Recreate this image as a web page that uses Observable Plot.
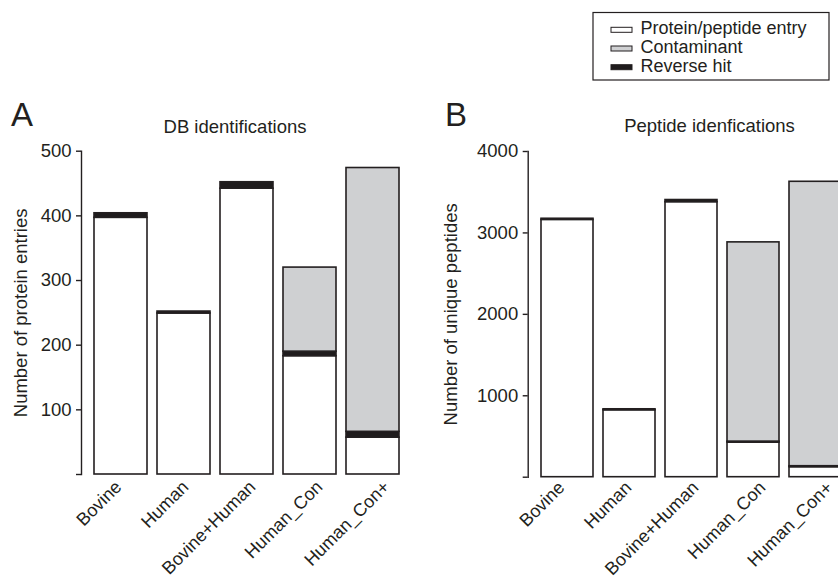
<!DOCTYPE html>
<html><head><meta charset="utf-8">
<script src="https://cdn.jsdelivr.net/npm/d3@7"></script>
<script src="https://cdn.jsdelivr.net/npm/@observablehq/plot@0.6"></script>
<style>
html,body{margin:0;padding:0;background:#fff;overflow:hidden}
#wrap{position:relative;width:838px;height:577px;overflow:hidden;font-family:"Liberation Sans",Arial,sans-serif;color:#231f20}
.panel{position:absolute;top:0;height:577px}
.panel svg{max-width:none !important;position:absolute;left:0;top:0}
#overlay{position:absolute;left:0;top:0;pointer-events:none}
</style></head>
<body>
<div id="wrap">
  <div id="pa" class="panel" style="left:0px;width:420px"></div>
  <div id="pb" class="panel" style="left:420px;width:433px"></div>
  <svg id="overlay" width="838" height="577"></svg>
</div>
<script>
// ---- data ----
const categories = ["Bovine", "Human", "Bovine+Human", "Human_Con", "Human_Con+"];
const series = ["Protein/peptide entry", "Reverse hit", "Contaminant"];
const legendOrder = ["Protein/peptide entry", "Contaminant", "Reverse hit"];

// Panel A: DB identifications (number of protein entries)
const dbEntry       = [397, 249, 442, 183, 57];
const dbReverse     = [7, 3, 10, 7, 9];
const dbContaminant = [0, 0, 0, 130, 408];
const dbTicks = [0, 100, 200, 300, 400, 500];

// Panel B: Peptide identifications (number of unique peptides)
const pepEntry       = [3160, 822, 3378, 425, 123];
const pepReverse     = [14, 12, 26, 12, 12];
const pepContaminant = [0, 0, 0, 2447, 3493];
const pepTicks = [0, 1000, 2000, 3000, 4000];

const colors = {"Protein/peptide entry": "#ffffff", "Reverse hit": "#1f1c1d", "Contaminant": "#cfd0d2"};
const ink = "#231f20";
const font = "Liberation Sans, Arial, sans-serif";

function tidy(entry, reverse, contaminant) {
  const cols = [entry, reverse, contaminant];
  const out = [];
  categories.forEach((c, i) => series.forEach((s, j) => {
    if (cols[j][i] > 0) out.push({category: c, series: s, value: cols[j][i]});
  }));
  return out;
}

function panel(data, ticks, ymax, o) {
  return Plot.plot({
    width: o.width, height: 577,
    marginLeft: o.ml, marginRight: o.mr, marginTop: o.mt, marginBottom: o.mb,
    style: {fontFamily: font, fontSize: "18.5px", color: ink, background: "transparent", overflow: "visible"},
    x: {domain: categories, padding: 0.165, insetLeft: o.inset, label: null, axis: null},
    y: {domain: [0, ymax], label: null},
    color: {domain: series, range: series.map(s => colors[s])},
    marks: [
      Plot.barY(data, {x: "category", y: "value", fill: "series", stroke: ink, strokeWidth: 1.6, order: series}),
      Plot.frame({anchor: "left", stroke: ink, strokeWidth: 1.4}),
      Plot.axisY(ticks, {tickSize: 5, tickPadding: 5, strokeWidth: 1.4, tickFormat: d => d === 0 ? "" : String(d),
        label: o.ylabel, labelAnchor: "center", labelArrow: "none", labelOffset: o.lo, fontSize: "18.5px"})
    ]
  });
}

// category labels (set slightly wider apart than the bars, as in the original)
function labels(o) {
  return Plot.plot({
    width: o.width, height: 577,
    marginLeft: o.ml, marginRight: o.mr, marginTop: o.mt, marginBottom: o.mb,
    style: {fontFamily: font, fontSize: "18px", color: ink, background: "transparent", overflow: "visible"},
    x: {type: "point", domain: categories, range: o.labelRange, padding: 0, label: null},
    y: {domain: [0, 1], axis: null},
    marks: [Plot.axisX({tickSize: 0, tickRotate: -45, tickPadding: o.tp, label: null, fontSize: "18px"})]
  });
}

const optA = {width: 420, ml: 81, mr: 9.8, mt: 150.7, mb: 103, inset: 1.2, ylabel: "Number of protein entries", lo: 68,
  labelRange: [116.5, 388], tp: 9.5};
const optB = {width: 433, ml: 107.7, mr: 0.8, mt: 151, mb: 100.3, inset: 2.7, ylabel: "Number of unique peptides", lo: 84,
  labelRange: [139, 410.5], tp: 7.5};

document.getElementById("pa").append(panel(tidy(dbEntry, dbReverse, dbContaminant), dbTicks, 500, optA), labels(optA));
document.getElementById("pb").append(panel(tidy(pepEntry, pepReverse, pepContaminant), pepTicks, 4000, optB), labels(optB));

// ---- overlay: panel letters, titles, legend ----
const svg = d3.select("#overlay").attr("font-family", font).attr("fill", ink);
svg.append("text").attr("x", 11).attr("y", 125.7).attr("font-size", 33).text("A");
svg.append("text").attr("x", 445).attr("y", 125.7).attr("font-size", 33).text("B");
svg.append("text").attr("x", 235).attr("y", 132.7).attr("font-size", 18.5).attr("text-anchor", "middle").text("DB identifications");
svg.append("text").attr("x", 709.5).attr("y", 132.3).attr("font-size", 18.5).attr("text-anchor", "middle").text("Peptide idenfications");

const lg = svg.append("g");
lg.append("rect").attr("x", 593).attr("y", 12.5).attr("width", 236).attr("height", 67.5)
  .attr("fill", "#fff").attr("stroke", ink).attr("stroke-width", 1.2);
legendOrder.forEach((s, i) => {
  const y = 34.3 + i * 18.7;
  lg.append("rect").attr("x", 611).attr("y", y - 7).attr("width", 21).attr("height", 5)
    .attr("fill", colors[s]).attr("stroke", ink).attr("stroke-width", 1);
  lg.append("text").attr("x", 640.5).attr("y", y).attr("font-size", 18).text(s);
});
</script>
</body></html>
